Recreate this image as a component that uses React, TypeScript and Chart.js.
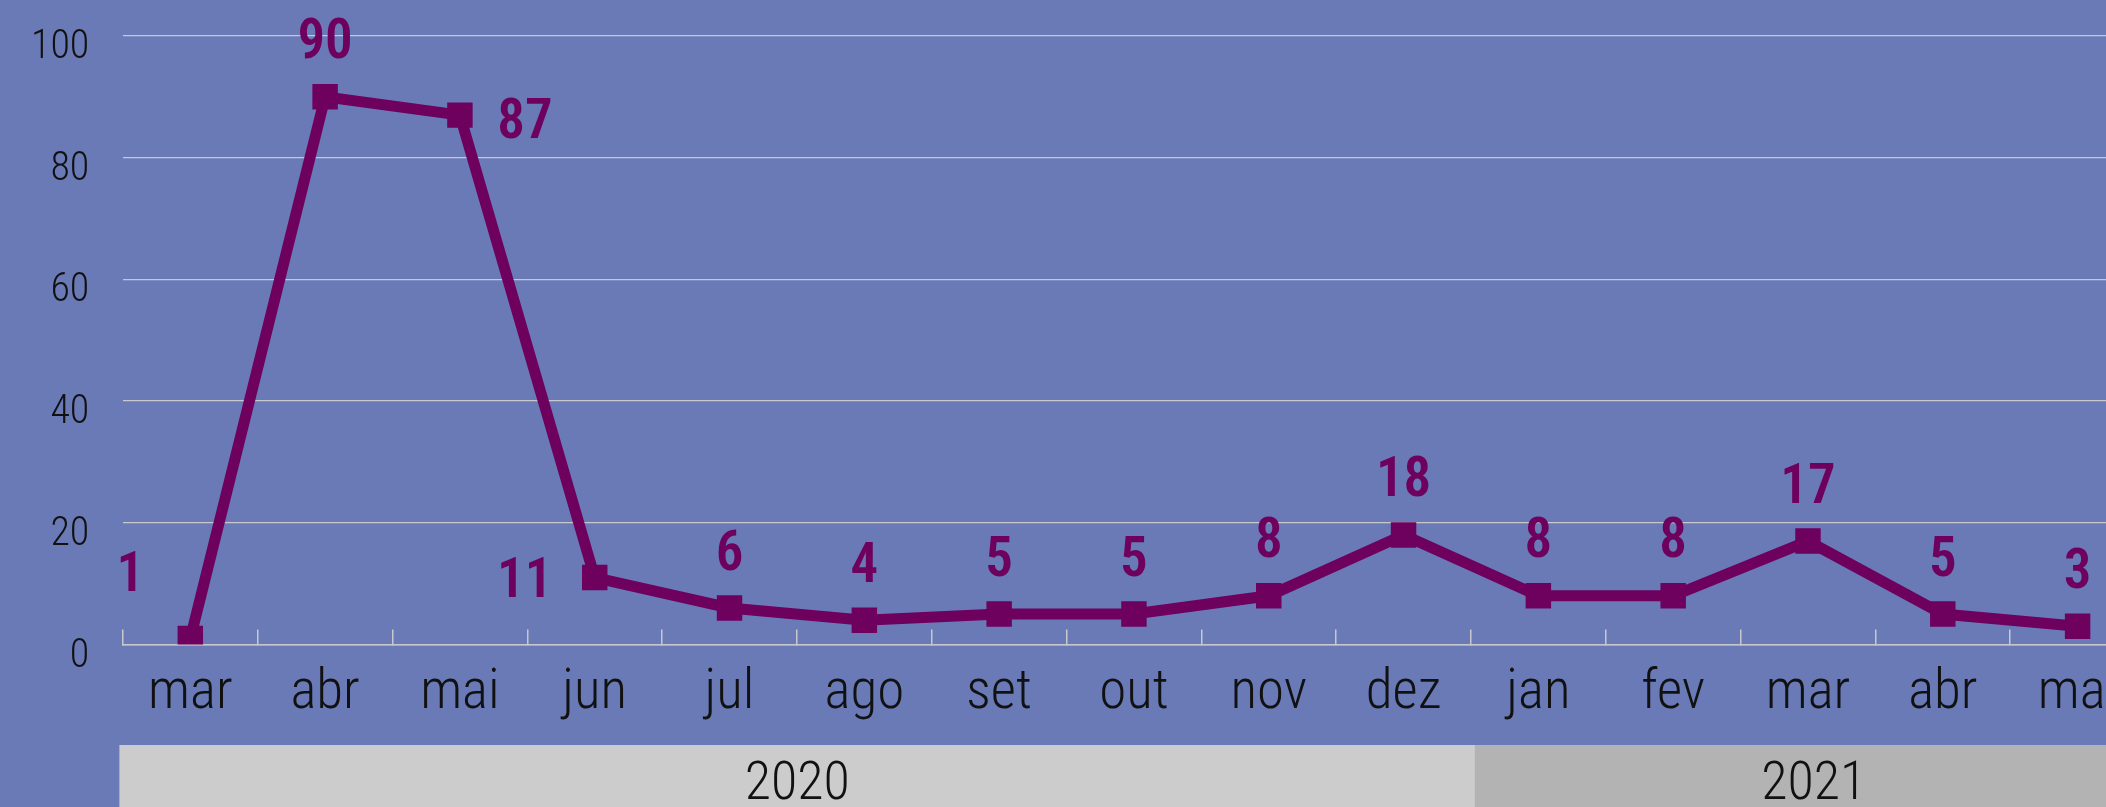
import { useEffect, useRef } from "react";
import { Chart, registerables } from "chart.js";

Chart.register(...registerables);

// ---- data ----
const months = ["mar", "abr", "mai", "jun", "jul", "ago", "set", "out", "nov", "dez", "jan", "fev", "mar", "abr", "mai"];
const values = [1, 90, 87, 11, 6, 4, 5, 5, 8, 18, 8, 8, 17, 5, 3];
const years = ["2020", "2021"];
const yearSpans = [10, 5];
const labelPlacement = ["aboveLeft", "above", "right", "left", "above", "above", "above", "above", "above", "above", "above", "above", "above", "above", "above"];
const yMin = 0;
const yMax = 100;
const yStep = 20;

// ---- style ----
const FONT = "'Roboto Condensed', 'Open Sans Condensed', 'Liberation Sans Narrow', 'DejaVu Sans Condensed', sans-serif";
const BG = "#6A7AB7";
const PURPLE = "#6E005E";
const GRID = "#C8C8CC";
const TEXT = "#111111";
const BAND_COLORS = ["#CCCCCC", "#B3B3B3"];
const CANVAS_W = 2145;
const CANVAS_H = 807;

const dataLabelPlugin = {
  id: "dataLabels",
  afterDatasetsDraw(chart: any) {
    const ctx = chart.ctx;
    const meta = chart.getDatasetMeta(0);
    const size = 55;
    ctx.save();
    ctx.font = `600 ${size}px ${FONT}`;
    ctx.fillStyle = PURPLE;
    ctx.textAlign = "center";
    ctx.textBaseline = "alphabetic";
    meta.data.forEach((pt: any, i: number) => {
      const place = labelPlacement[i];
      let dx = 0;
      let dy = -58;
      if (place === "right") { dx = 65; dy = 3; }
      else if (place === "left") { dx = -70; dy = 0; }
      else if (place === "aboveLeft") { dx = -60; dy = -67; }
      ctx.fillText(String(values[i]), pt.x + dx, pt.y + dy + 0.355 * size);
    });
    ctx.restore();
  },
};

const yearBandPlugin = {
  id: "yearBands",
  afterDraw(chart: any) {
    const ctx = chart.ctx;
    const xs = chart.scales.x;
    const cw = (xs.right - xs.left) / months.length + 0.75;
    const x00 = xs.left - 3.5;
    const bandH = 62;
    const top = chart.height - bandH;
    const size = 54;
    let start = 0;
    ctx.save();
    yearSpans.forEach((n, k) => {
      const x0 = x00 + start * cw;
      const x1 = k === yearSpans.length - 1 ? chart.width : x00 + (start + n) * cw;
      ctx.fillStyle = BAND_COLORS[k];
      ctx.fillRect(x0, top, x1 - x0, bandH);
      const cx = x00 + (start + n / 2) * cw;
      ctx.fillStyle = TEXT;
      ctx.font = `300 ${size}px ${FONT}`;
      ctx.textAlign = "center";
      ctx.textBaseline = "alphabetic";
      ctx.fillText(years[k], cx, top + bandH / 2 + 0.355 * size + 4);
      start += n;
    });
    ctx.restore();
  },
};

export default function App() {
  const ref = useRef<HTMLCanvasElement | null>(null);

  useEffect(() => {
    if (!ref.current) return;
    const chart = new Chart(ref.current, {
      type: "line",
      data: {
        labels: months,
        datasets: [
          {
            data: values,
            borderColor: PURPLE,
            backgroundColor: PURPLE,
            borderWidth: 11,
            pointStyle: "rect",
            pointRadius: 18,
            pointBorderWidth: 0,
            pointBackgroundColor: PURPLE,
            tension: 0,
            fill: false,
          },
        ],
      },
      options: {
        responsive: false,
        animation: false,
        layout: { autoPadding: false, padding: { top: 36, left: 0, right: 0, bottom: 0 } },
        plugins: {
          legend: { display: false },
          tooltip: { enabled: false },
        },
        scales: {
          x: {
            offset: true,
            afterFit: (s: any) => {
              s.height = 162.5;
              s.paddingLeft = 0;
              s.paddingRight = 0;
            },
            grid: {
              offset: true,
              drawOnChartArea: false,
              drawTicks: true,
              tickLength: -15,
              color: GRID,
              lineWidth: 1.5,
            },
            border: { display: true, color: GRID, width: 1.5 },
            ticks: {
              color: TEXT,
              font: { family: FONT, size: 55, weight: "300" },
              padding: 32,
              maxRotation: 0,
              autoSkip: false,
            },
          },
          y: {
            min: yMin,
            max: yMax,
            afterFit: (s: any) => {
              s.width = 122.9;
              s.paddingTop = 0;
              s.paddingBottom = 0;
            },
            grid: { color: GRID, lineWidth: 1.3, drawTicks: false },
            border: { display: false },
            ticks: {
              stepSize: yStep,
              color: TEXT,
              font: { family: FONT, size: 40, weight: "300" },
              padding: 33.6,
              labelOffset: 12,
            },
          },
        },
      },
      plugins: [dataLabelPlugin, yearBandPlugin],
    });
    return () => chart.destroy();
  }, []);

  return (
    <div
      style={{
        position: "fixed",
        left: 0,
        top: 0,
        width: "100vw",
        height: "100vh",
        overflow: "hidden",
        background: BG,
      }}
    >
      <canvas
        ref={ref}
        width={CANVAS_W}
        height={CANVAS_H}
        style={{ display: "block", width: CANVAS_W + "px", height: CANVAS_H + "px" }}
      />
    </div>
  );
}
